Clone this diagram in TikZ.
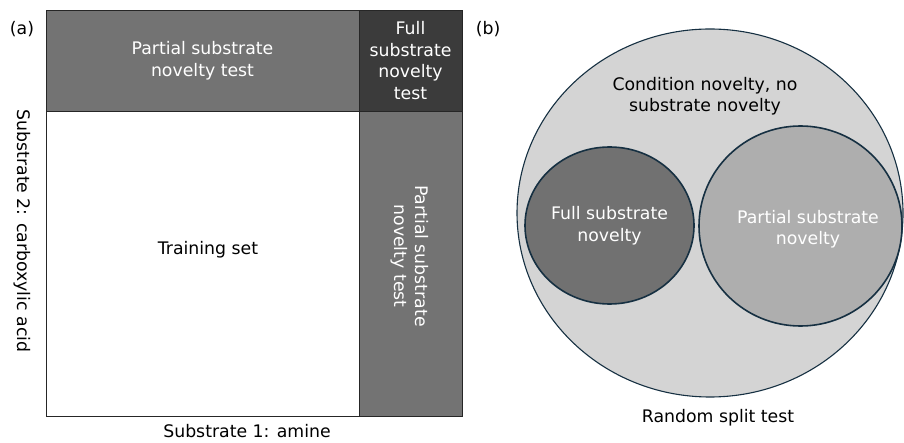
\documentclass[tikz,border=0pt]{standalone}
\usepackage{fontspec}
\setmainfont{DejaVu Sans}
\usetikzlibrary{positioning,shapes.geometric}

\definecolor{midgrey}{HTML}{737373}
\definecolor{darkgrey}{HTML}{3B3B3B}
\definecolor{palegrey}{HTML}{D4D4D4}
\definecolor{ringgrey}{HTML}{717171}
\definecolor{lightgrey}{HTML}{AEAEAE}
\definecolor{ringline}{RGB}{22,48,66}

\tikzset{
  txt/.style={font=\fontsize{17.3}{21.5}\selectfont, align=center, inner sep=0pt},
  cell/.style={txt, draw=black!85, line width=0.9pt, outer sep=0pt, text=white},
  blob/.style={ellipse, draw=ringline, line width=1.6pt, inner sep=0pt},
}

\begin{document}
\begin{tikzpicture}[x=1pt, y=-1pt, node distance=0pt]
  \useasboundingbox (0,0) rectangle (904,443);

  % Define nodes (a)
  \node[cell, fill=midgrey, minimum width=313pt, minimum height=101pt, anchor=north west]
    (topband) at (46,10) {Partial substrate\\novelty test};
  \node[cell, fill=darkgrey, minimum width=103pt, minimum height=101pt, right=of topband]
    (fullcell) {Full\\substrate\\novelty\\test};
  \node[cell, fill=white, minimum width=313pt, minimum height=305pt, below=of topband]
    (train) {};
  \node[cell, fill=midgrey, minimum width=103pt, minimum height=305pt, below=of fullcell]
    (sidecol) {};
  \node[txt] (trainlbl) at (208,250) {Training set};
  \node[txt, text=white, rotate=-90] (sidelbl) at (410,256) {Partial substrate\\novelty test};
  \node[txt, anchor=base] (xlbl) at (247,437) {Substrate 1: amine};
  \node[txt, rotate=-90] (ylbl) at (22,231) {Substrate 2: carboxylic acid};
  \node[txt] (panela) at (22,29) {(a)};

  % Define nodes (b)
  \node[blob, fill=palegrey, line width=1.1pt, minimum width=386pt, minimum height=368pt]
    (outer) at (710,213) {};
  \node[blob, fill=ringgrey, minimum width=169pt, minimum height=157pt]
    (fullring) at (609.5,225.5) {};
  \node[blob, fill=lightgrey, minimum width=203pt, minimum height=200pt]
    (partring) at (800.5,226) {};
  \node[txt, text=white] (fulllbl) at (fullring) {Full substrate\\novelty};
  \node[txt, text=white] (partlbl) at (808,229) {Partial substrate\\novelty};
  \node[txt] (condlbl) at (705,96) {Condition novelty, no\\substrate novelty};
  \node[txt] (randlbl) at (718,418) {Random split test};
  \node[txt] (panelb) at (488,29) {(b)};

\end{tikzpicture}
\end{document}
